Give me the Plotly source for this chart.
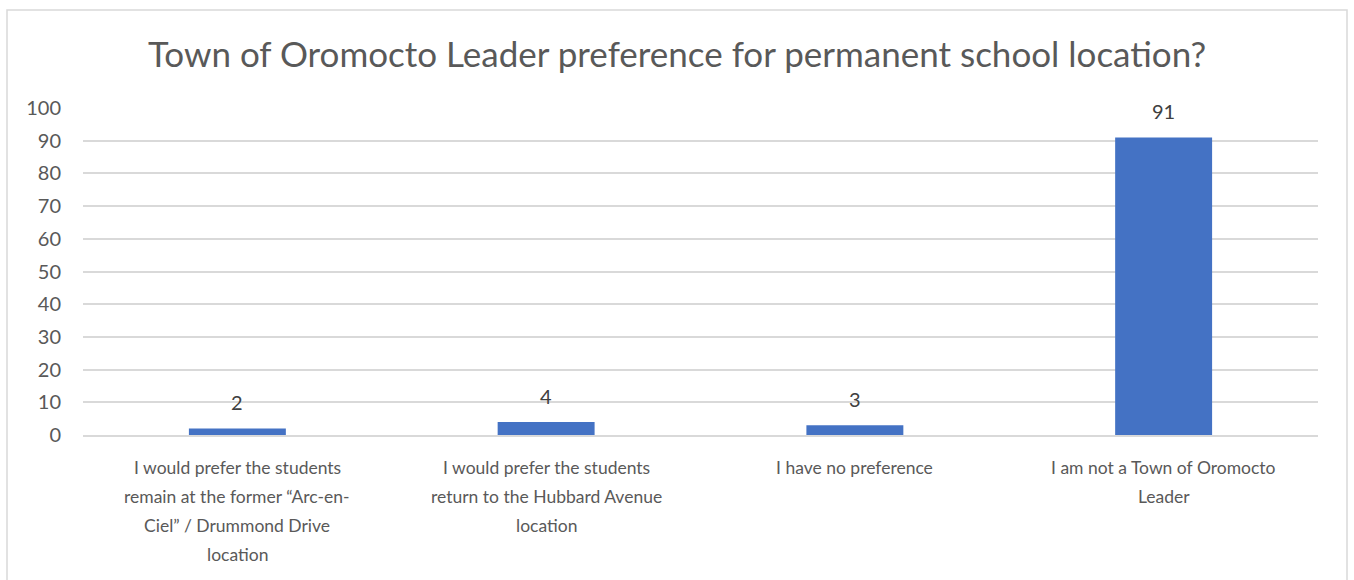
import plotly.graph_objects as go

categories = [
    "I would prefer the students<br>remain at the former “Arc-en-<br>Ciel” / Drummond Drive<br>location",
    "I would prefer the students<br>return to the Hubbard Avenue<br>location",
    "I have no preference",
    "I am not a Town of Oromocto<br>Leader",
]
values = [2, 4, 3, 91]
title_text = "Town of Oromocto Leader preference for permanent school location?"

FONT = "Lato"
GRAY = "#595959"

fig = go.Figure()
fig.add_trace(go.Bar(
    x=categories, y=values,
    marker=dict(color="#4472C4", line=dict(width=0)),
    hoverinfo="skip",
))

# data labels
for c, v in zip(categories, values):
    fig.add_annotation(x=c, y=v, text=str(v), showarrow=False,
                       yanchor="bottom", yshift=12,
                       font=dict(family=FONT, size=20, color="#404040"))

# category labels, one annotation per line for Excel-like line spacing
for c in categories:
    for i, line in enumerate(c.split("<br>")):
        fig.add_annotation(x=c, y=0, xref="x", yref="paper", text=line,
                           showarrow=False, yanchor="middle",
                           yshift=-(32 + 29 * i),
                           font=dict(family=FONT, size=17.5, color=GRAY))

fig.add_shape(type="rect", xref="paper", yref="paper",
              x0=(7 - 83) / 1235, x1=(1347 - 83) / 1235,
              y0=(435 - 600) / 327, y1=(435 - 10) / 327,
              line=dict(color="#d9d9d9", width=1.5), layer="below")

fig.update_layout(
    width=1354, height=580,
    margin=dict(l=83, r=36, t=108, b=145),
    paper_bgcolor="white", plot_bgcolor="white",
    bargap=0.686,
    showlegend=False,
    title=dict(text=title_text, x=0.5, xanchor="center", y=1 - 55 / 580,
               yanchor="middle",
               font=dict(family=FONT, size=35, color=GRAY)),
    font=dict(family=FONT, color=GRAY),
)
fig.update_yaxes(range=[0, 100], dtick=10, showgrid=True, gridcolor="#d9d9d9",
                 gridwidth=1.5, zeroline=False, showline=False, ticks="",
                 tickfont=dict(family=FONT, size=20, color=GRAY),
                 ticklabelstandoff=21, fixedrange=True)
fig.update_xaxes(showline=True, linecolor="#d9d9d9", linewidth=1.5, ticks="",
                 showticklabels=False, fixedrange=True)

fig.write_html("out.html", config={"displayModeBar": False},
               post_script="document.body.style.margin='0';")
